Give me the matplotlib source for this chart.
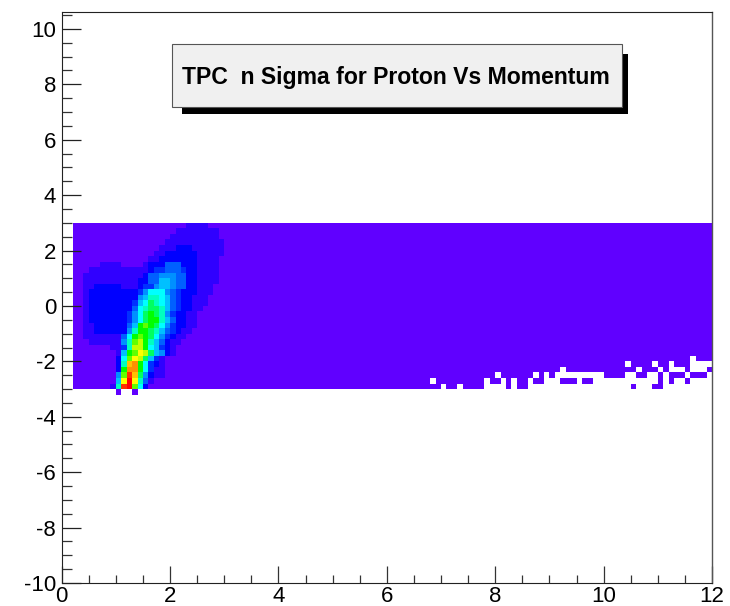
"""
TPC n sigma for proton vs momentum (ROOT style 2D histogram)
"""

import numpy as np
import matplotlib
matplotlib.use('Agg')
import matplotlib.pyplot as plt
from matplotlib.colors import ListedColormap
from matplotlib.patches import Rectangle
from matplotlib.ticker import MultipleLocator

plt.rcParams['font.family'] = ['Liberation Sans', 'DejaVu Sans']
plt.rcParams['axes.unicode_minus'] = False

W, H = 730, 606

# histogram binning
x_edges = np.arange(0, 121) * 0.1
y_edges = np.arange(-3.2, 3.01, 0.2)

# palette levels, one char per bin
level_chars = '0123456789abcdefgh'
level_colors = ['#6000ff', '#3000ff', '#0000ff', '#0030ff', '#0060ff', '#0090ff',
                '#00c0ff', '#00ffff', '#00ffc0', '#00ff60', '#00ff00', '#60ff00',
                '#c0ff00', '#ffff00', '#ffc000', '#ff9000', '#ff3000', '#ff0000']

# rows from y=3 downwards: (first column, levels), everything else in the band is level 0
hot_rows = [
    (23, '1111'),
    (21, '11111111'),
    (20, '111111111'),
    (19, '11111111111'),
    (18, '111222111111'),
    (17, '1122222211111'),
    (16, '1122222221111'),
    (7, '1111000012224442221111'),
    (5, '111111111112334443221111'),
    (4, '1111111111124455544221111'),
    (4, '1111111111224466544221111'),
    (4, '112222211123356654422111'),
    (4, '122222222235777543222111'),
    (4, '12222222225688764322111'),
    (4, '12222222236798764322111'),
    (4, '1222222224789986432211'),
    (4, '122222223579a98532211'),
    (4, '122222223579aa8642211'),
    (4, '1122222246aba97532211'),
    (4, '1122222258aa98643211'),
    (4, '111111147aba9753211'),
    (5, '11111158bca864211'),
    (9, '1138cca76321'),
    (10, '16abdc96521'),
    (10, '27bdc9631'),
    (10, '28efa7321'),
    (10, '2affa7311'),
    (10, '5bge95211'),
    (10, '6dhd841'),
    (9, '18ghb72'),
]

# isolated filled bins just below the band, y in [-3.2, -3.0)
under_cols = [10, 13]

# empty bins at large momentum, row counted from y=3 downwards
empty_bins = {
    24: [116],
    25: [104, 109, 112, 116, 117, 118, 119],
    26: [92, 106, 110, 112, 113, 114, 116, 117, 118],
    27: [80, 87, 89, 91, 92, 93, 94, 95, 96, 97, 98, 99, 104, 105, 108, 109, 111, 115, 119],
    28: [68, 78, 81, 83, 86, 89, 90, 91, 95, 98, 99, 100, 101, 102, 103, 104, 105, 106,
         107, 108, 109, 111, 113, 114, 116, 117, 118, 119],
    29: [70, 73, 78, 79, 80, 81, 83, 86, 87, 88, 89, 90, 91, 92, 93, 94, 95, 96, 97, 98,
         99, 100, 101, 102, 103, 104, 106, 107, 108, 111, 112, 113, 114, 115, 116, 117,
         118, 119],
}

# bins: row 0 is the lowest (below the band)
z = np.full((31, 120), np.nan)
z[1:31, 2:] = 0
for col in under_cols:
    z[0, col] = 0
for i, (start, levels) in enumerate(hot_rows):
    for j, ch in enumerate(levels):
        z[30 - i, start + j] = level_chars.index(ch)
for i, cols in empty_bins.items():
    for col in cols:
        z[30 - i, col] = np.nan

fig = plt.figure(figsize=(W / 100, H / 100), dpi=100)
ax = fig.add_axes([61.7 / W, 1 - 583 / H, 650.3 / W, 571 / H])

cmap = ListedColormap(level_colors)
cmap.set_bad('white')
ax.pcolormesh(x_edges, y_edges, np.ma.masked_invalid(z), cmap=cmap,
              vmin=-0.5, vmax=len(level_colors) - 0.5, linewidth=0, rasterized=True)

ax.set_xlim(0, 12)
ax.set_ylim(-10, 10.61)

ax.xaxis.set_major_locator(MultipleLocator(2))
ax.xaxis.set_minor_locator(MultipleLocator(0.5))
ax.yaxis.set_major_locator(MultipleLocator(2))
ax.yaxis.set_minor_locator(MultipleLocator(0.5))

ax.tick_params(axis='x', which='major', direction='in', length=12, width=0.9,
               color='#333333', labelsize=16, pad=2)
ax.tick_params(axis='x', which='minor', direction='in', length=6, width=0.9, color='#333333')
ax.tick_params(axis='y', which='major', direction='in', length=14, width=0.9,
               color='#222222', labelsize=16, pad=4)
ax.tick_params(axis='y', which='minor', direction='in', length=7, width=0.9, color='#333333')

for side in ['top', 'left', 'bottom']:
    ax.spines[side].set_color('#222222')
    ax.spines[side].set_linewidth(0.8)
ax.spines['right'].set_color('#555555')
ax.spines['right'].set_linewidth(1.0)


def px_rect(x0, y0, x1, y1, **kw):
    # rectangle given in picture pixels, y from the top
    return Rectangle((x0 / W, 1 - y1 / H), (x1 - x0) / W, (y1 - y0) / H,
                     transform=fig.transFigure, **kw)


# title box with its shadow
fig.add_artist(px_rect(182, 54, 628, 113.5, facecolor='black', edgecolor='none'))
fig.add_artist(px_rect(171.5, 44, 621.5, 107, facecolor='#f0f0f0', edgecolor='#555555', linewidth=0.8))
fig.text(395.5 / W, 1 - 77.5 / H, 'TPC  n Sigma for Proton Vs Momentum', fontsize=16.6,
         fontweight='bold', ha='center', va='center', color='black')

fig.savefig('out.png', dpi=100)
